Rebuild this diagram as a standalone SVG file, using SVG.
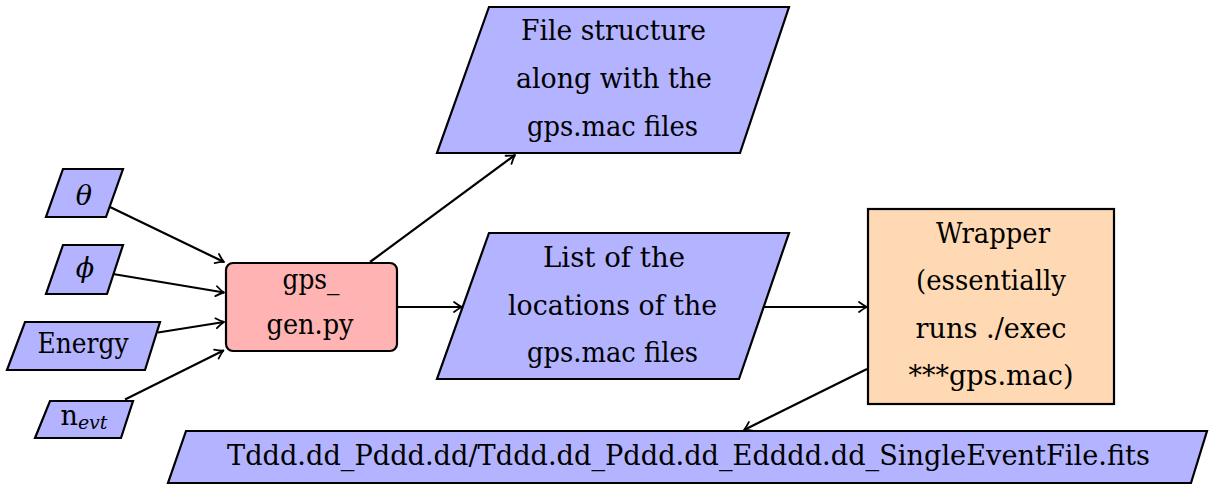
<svg xmlns="http://www.w3.org/2000/svg" width="1209" height="485" viewBox="0 0 1209 485">
  <style>
    .io { fill: #b3b3ff; stroke: #000; stroke-width: 2.2; stroke-linejoin: miter; }
    .proc { fill: #ffb3b3; stroke: #000; stroke-width: 2.2; }
    .wrap { fill: #ffd9b3; stroke: #000; stroke-width: 2.2; }
    .lbl { font-family: "DejaVu Serif", serif; font-size: 27px; fill: #000; text-anchor: middle; }
    .it { font-style: italic; }
    .conn line { stroke: #000; stroke-width: 2.2; fill: none; marker-end: url(#tip); }
  </style>
  <defs>
    <marker id="tip" markerUnits="userSpaceOnUse" viewBox="-10 -6 12 12" refX="0" refY="0" markerWidth="12" markerHeight="12" orient="auto" overflow="visible">
      <path d="M -8 -5 Q -3 -1.2 0 0 Q -3 1.2 -8 5" fill="none" stroke="#000" stroke-width="1.8" stroke-linecap="round" stroke-linejoin="round"/>
    </marker>
  </defs>
  <rect width="1209" height="485" fill="#fff"/>

  <!-- inputs -->
  <g id="theta">
    <polygon class="io" points="63,169 123,169 106,217 46,217"/>
    <text class="lbl it" x="84" y="205">θ</text>
  </g>
  <g id="phi">
    <polygon class="io" points="63,245 123,245 107,294 46,294"/>
    <text class="lbl it" x="85" y="277" font-size="25">ϕ</text>
  </g>
  <g id="energy">
    <polygon class="io" points="25,322 160,322 145,370 7,370"/>
    <text class="lbl" x="83" y="353" textLength="91" lengthAdjust="spacingAndGlyphs">Energy</text>
  </g>
  <g id="nevt">
    <polygon class="io" points="50,401 133,401 121,438 35,438"/>
    <text class="lbl" x="84" y="425">n<tspan class="it" font-size="19" dy="4">evt</tspan></text>
  </g>

  <!-- script -->
  <g id="gpsgen">
    <rect class="proc" x="226" y="263" width="171" height="88" rx="7" ry="7"/>
    <text class="lbl" x="311" y="289" textLength="57" lengthAdjust="spacingAndGlyphs">gps_</text>
    <text class="lbl" x="310" y="334" textLength="87" lengthAdjust="spacingAndGlyphs">gen.py</text>
  </g>

  <!-- outputs -->
  <g id="filestructure">
    <polygon class="io" points="489,7 789,7 740,153 437,153"/>
    <text class="lbl" x="613.5" y="39.5" textLength="185" lengthAdjust="spacingAndGlyphs">File structure</text>
    <text class="lbl" x="614" y="87.5" textLength="196" lengthAdjust="spacingAndGlyphs">along with the</text>
    <text class="lbl" x="612.5" y="136" textLength="171" lengthAdjust="spacingAndGlyphs">gps.mac files</text>
  </g>
  <g id="locations">
    <polygon class="io" points="489,233 789,233 739,379 437,379"/>
    <text class="lbl" x="614" y="267" textLength="142" lengthAdjust="spacingAndGlyphs">List of the</text>
    <text class="lbl" x="612.5" y="314.5" textLength="209" lengthAdjust="spacingAndGlyphs">locations of the</text>
    <text class="lbl" x="612.5" y="362" textLength="171" lengthAdjust="spacingAndGlyphs">gps.mac files</text>
  </g>
  <g id="wrapper">
    <rect class="wrap" x="868" y="209" width="246" height="195"/>
    <text class="lbl" x="993" y="242.5" textLength="114" lengthAdjust="spacingAndGlyphs">Wrapper</text>
    <text class="lbl" x="991" y="290" textLength="150" lengthAdjust="spacingAndGlyphs">(essentially</text>
    <text class="lbl" x="991" y="337.5" textLength="151" lengthAdjust="spacingAndGlyphs">runs ./exec</text>
    <text class="lbl" x="991" y="385" textLength="165" lengthAdjust="spacingAndGlyphs">***gps.mac)</text>
  </g>
  <g id="eventfile">
    <polygon class="io" points="186,431 1207,431 1191,483 168,483"/>
    <text class="lbl" x="688.5" y="465" textLength="923" lengthAdjust="spacingAndGlyphs">Tddd.dd_Pddd.dd/Tddd.dd_Pddd.dd_Edddd.dd_SingleEventFile.fits</text>
  </g>

  <!-- connectors -->
  <g id="connectors" class="conn">
    <line x1="110" y1="207" x2="224" y2="262"/>
    <line x1="113" y1="274" x2="224" y2="292.5"/>
    <line x1="158" y1="332.5" x2="224" y2="322"/>
    <line x1="125" y1="399.5" x2="223.5" y2="350.5"/>
    <line x1="370" y1="262" x2="515" y2="155"/>
    <line x1="397" y1="307" x2="462" y2="307"/>
    <line x1="764" y1="307" x2="867" y2="307"/>
    <line x1="867" y1="369" x2="744" y2="430"/>
  </g>
</svg>
